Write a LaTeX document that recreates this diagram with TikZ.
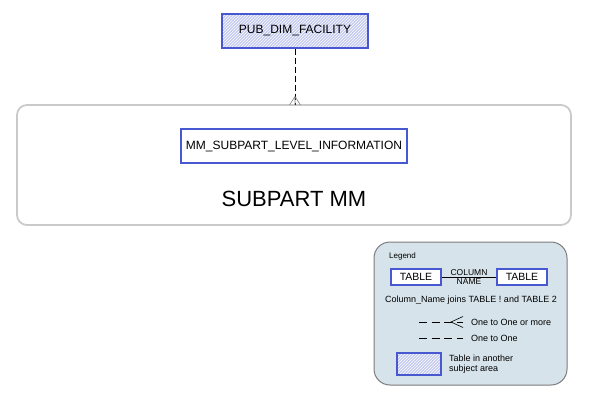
\documentclass[tikz,border=0pt]{standalone}
\usepackage{fontspec}
\setmainfont{Liberation Sans}
\usepackage{tikz}
\usetikzlibrary{patterns,positioning}
\definecolor{tblue}{HTML}{4858D0}
\definecolor{hatch}{HTML}{C6CBF0}
\definecolor{grpgray}{HTML}{CACACA}
\definecolor{legfill}{HTML}{D6E3EA}
\definecolor{leggray}{HTML}{7C7C7C}
\tikzstyle{table} = [draw=tblue,line width=1.3pt,fill=white,minimum height=34pt,inner xsep=0pt,font=\fontsize{12}{14}\selectfont]
\tikzstyle{othertable} = [table,preaction={fill=hatch},pattern=north east lines,pattern color=white]
\tikzstyle{smalltable} = [draw=tblue,line width=1.4pt,fill=white,minimum width=50pt,minimum height=16pt,inner sep=0pt,font=\fontsize{10.5}{12}\selectfont]
\tikzstyle{legtext} = [font=\fontsize{9}{10.5}\selectfont,inner sep=0pt]
\tikzstyle{rel} = [line width=0.9pt,dash pattern=on 6pt off 3pt]
\tikzstyle{legrel} = [line width=0.7pt,dash pattern=on 8pt off 4.5pt]

\begin{document}
\begin{tikzpicture}[x=1pt,y=-1pt]
            \useasboundingbox (0,0) rectangle (591,402);
            \node[draw=grpgray,line width=1.8pt,rounded corners=10pt,minimum width=554pt,minimum height=120pt] (grp) at (294,165) {};
            \node[anchor=center,font=\fontsize{22}{26}\selectfont] (grplabel) at (294,199) {SUBPART MM};
            \node[table,minimum width=226pt] (mm) at (294,146) {MM\_SUBPART\_LEVEL\_INFORMATION};
            \node[othertable,minimum width=146pt] (fac) at (295,31) {PUB\_DIM\_FACILITY};
            \coordinate (foot) at (295,105);
            \draw[rel] (fac.south) -- (foot);
            \draw[gray,line width=0.6pt] (289.5,105) -- (295,96.5) -- (300.5,105) (295,96.5) -- (foot);
            \node[draw=leggray,line width=1pt,fill=legfill,rounded corners=16pt,minimum width=193pt,minimum height=143pt] (legend) at (470.5,313.5) {};
            \node[anchor=west,font=\fontsize{8}{10}\selectfont,inner sep=0pt] (legtitle) at (389,256) {Legend};
            \node[smalltable] (ltab) at (416,277) {TABLE};
            \node[smalltable] (rtab) at (522,277) {TABLE};
            \draw[line width=0.8pt] (ltab.east) -- (rtab.west)
                node[midway,above=0.8pt,legtext,font=\fontsize{8.5}{10}\selectfont] {COLUMN}
                node[midway,below=1.2pt,legtext,font=\fontsize{8.5}{10}\selectfont] {NAME};
            \node[legtext] (joins) at (471,300) {Column\_Name joins TABLE ! and TABLE 2};
            \coordinate (m1) at (419,322);
            \coordinate (m2) at (463,322);
            \draw[legrel] (m1) -- (m2);
            \draw[line width=0.6pt] (463,316.5) -- (451,322) -- (463,327.5);
            \node[legtext,anchor=west] (many) at (471,322) {One to One or more};
            \coordinate (o1) at (419,338);
            \coordinate (o2) at (463,338);
            \draw[legrel] (o1) -- (o2);
            \node[legtext,anchor=west] (one) at (471,338) {One to One};
            \node[othertable,line width=1.4pt,minimum width=44pt,minimum height=22pt] (other) at (419,364) {};
            \node[legtext,anchor=west,align=left] (othertext) at (449,364) {Table in another\\subject area};
        \end{tikzpicture}
\end{document}
